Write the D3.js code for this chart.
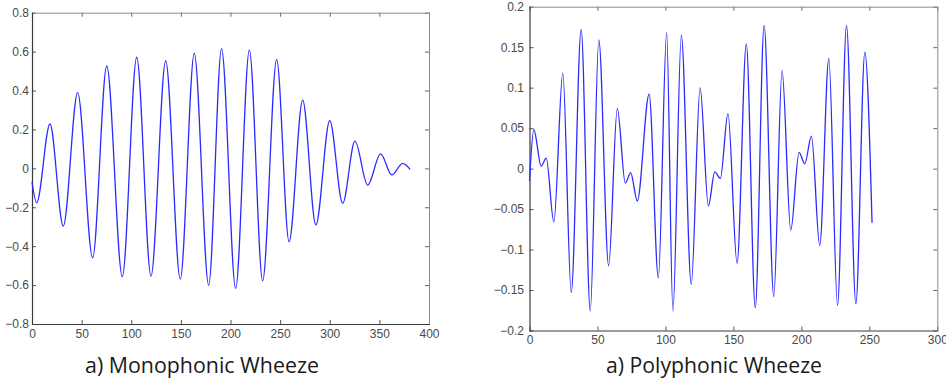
<!DOCTYPE html>
<html><head><meta charset="utf-8">
<script src="https://cdn.jsdelivr.net/npm/d3@7"></script>
<style>
html,body{margin:0;padding:0;background:#fff;}
svg{display:block;}
.tick text{font-family:"Liberation Sans",Arial,sans-serif;font-size:12px;fill:#4a4a4a;}
</style></head>
<body>
<svg id="c" width="946" height="380"></svg>
<script>
// ---- data ----
const monoX = [0, 4.7, 18.1, 31.5, 46, 61.1, 75.3, 91, 105.5, 119.9, 134.7, 149.4, 163.5, 178, 191, 205.2, 219, 232.4, 246.5, 259, 272.7, 286, 300, 313, 325.4, 338.2, 351.3, 362.5, 373.5, 381];
const monoY = [-0.07, -0.177, 0.228, -0.297, 0.389, -0.46, 0.526, -0.557, 0.571, -0.554, 0.553, -0.569, 0.591, -0.6, 0.615, -0.617, 0.608, -0.578, 0.56, -0.377, 0.351, -0.291, 0.245, -0.18, 0.14, -0.086, 0.074, -0.034, 0.026, -0.005];
const polyX = [0, 3.2, 8.6, 12.3, 17.9, 24.5, 30.7, 38, 44.7, 51, 58.2, 64.6, 70.5, 74.4, 79.3, 88, 94.8, 100.9, 105.5, 111.7, 119, 125.5, 131.6, 136.3, 140.4, 146, 152.7, 159.5, 166.1, 172.6, 179.7, 185.8, 192.2, 198.3, 202.5, 207.4, 213.5, 220.2, 226.6, 233.2, 240.1, 246.7, 252];
const polyY = [-0.015, 0.048, 0.003, 0.013, -0.066, 0.118, -0.153, 0.172, -0.176, 0.159, -0.12, 0.074, -0.018, -0.005, -0.04, 0.092, -0.135, 0.168, -0.176, 0.165, -0.143, 0.1, -0.046, -0.004, -0.012, 0.068, -0.117, 0.154, -0.172, 0.177, -0.158, 0.121, -0.076, 0.02, 0.006, 0.04, -0.095, 0.136, -0.169, 0.177, -0.167, 0.144, -0.067];
const monoXTicks = [0, 50, 100, 150, 200, 250, 300, 350, 400];
const monoYTicks = [-0.8, -0.6, -0.4, -0.2, 0, 0.2, 0.4, 0.6, 0.8];
const polyXTicks = [0, 50, 100, 150, 200, 250, 300];
const polyYTicks = [-0.2, -0.15, -0.1, -0.05, 0, 0.05, 0.1, 0.15, 0.2];
const titles = ["a) Monophonic Wheeze", "a) Polyphonic Wheeze"];

const svg = d3.select("#c");

function panel(cfg) {
  const x = d3.scaleLinear().domain(cfg.xDom).range([cfg.x0, cfg.x1]);
  const y = d3.scaleLinear().domain(cfg.yDom).range([cfg.y1, cfg.y0]);
  const g = svg.append("g");
  const tk = 4;
  const fmt = d => d3.format("")(+d.toFixed(2));
  // axes
  g.append("g").attr("transform", `translate(0,${cfg.y1})`)
    .call(d3.axisBottom(x).tickValues(cfg.xTicks).tickSize(-tk).tickPadding(5).tickFormat(fmt))
    .call(a => { a.select(".domain").remove(); a.selectAll("line").attr("stroke", "#555"); a.selectAll("text").attr("dy", "0.71em"); });
  g.append("g").attr("transform", `translate(0,${cfg.y0})`)
    .call(d3.axisTop(x).tickValues(cfg.xTicks).tickSize(-tk).tickFormat(""))
    .call(a => { a.select(".domain").remove(); a.selectAll("line").attr("stroke", "#666"); });
  g.append("g").attr("transform", `translate(${cfg.x0},0)`)
    .call(d3.axisLeft(y).tickValues(cfg.yTicks).tickSize(-tk).tickPadding(cfg.yPad).tickFormat(fmt))
    .call(a => { a.select(".domain").remove(); a.selectAll("line").attr("stroke", "#555"); });
  g.append("g").attr("transform", `translate(${cfg.x1},0)`)
    .call(d3.axisRight(y).tickValues(cfg.yTicks).tickSize(-tk).tickFormat(""))
    .call(a => { a.select(".domain").remove(); a.selectAll("line").attr("stroke", "#666"); });
  // box
  g.append("line").attr("x1", cfg.x0).attr("x2", cfg.x1).attr("y1", cfg.y0 + 0.5).attr("y2", cfg.y0 + 0.5).attr("stroke", "#8a8a8a");
  g.append("line").attr("x1", cfg.x1 + 0.5).attr("x2", cfg.x1 + 0.5).attr("y1", cfg.y0).attr("y2", cfg.y1).attr("stroke", "#8a8a8a");
  g.append("line").attr("x1", cfg.x0).attr("x2", cfg.x1 + 1).attr("y1", cfg.y1 + 0.5).attr("y2", cfg.y1 + 0.5).attr("stroke", "#3a3a3a").attr("stroke-width", 1.2);
  g.append("line").attr("x1", cfg.x0 + 0.5).attr("x2", cfg.x0 + 0.5).attr("y1", cfg.y0).attr("y2", cfg.y1 + 1).attr("stroke", "#3a3a3a").attr("stroke-width", 1.2);
  // signal
  const pts = cfg.xs.map((v, i) => [v, cfg.ys[i]]);
  g.append("path").datum(pts)
    .attr("fill", "none").attr("stroke", "#2b2bff").attr("stroke-width", 1.3)
    .attr("d", d3.line().x(d => x(d[0])).y(d => y(d[1])).curve(d3.curveMonotoneX));
  // title
  svg.append("text").attr("x", cfg.tx).attr("y", 373).attr("text-anchor", "middle")
    .attr("font-family", "'Open Sans','Noto Sans',sans-serif").attr("font-size", 22)
    .attr("fill", "#1a1a1a")
    .attr("textLength", cfg.tw).attr("lengthAdjust", "spacingAndGlyphs")
    .text(cfg.title);
}

panel({xDom: [0, 400], yDom: [-0.8, 0.8], x0: 32, x1: 429, y0: 12.7, y1: 324,
  xTicks: monoXTicks, yTicks: monoYTicks, yPad: 3, xs: monoX, ys: monoY,
  title: titles[0], tx: 202, tw: 234});
panel({xDom: [0, 300], yDom: [-0.2, 0.2], x0: 529.5, x1: 937.3, y0: 6.7, y1: 330.5,
  xTicks: polyXTicks, yTicks: polyYTicks, yPad: 5.5, xs: polyX, ys: polyY,
  title: titles[1], tx: 714, tw: 216});
</script>
</body></html>
